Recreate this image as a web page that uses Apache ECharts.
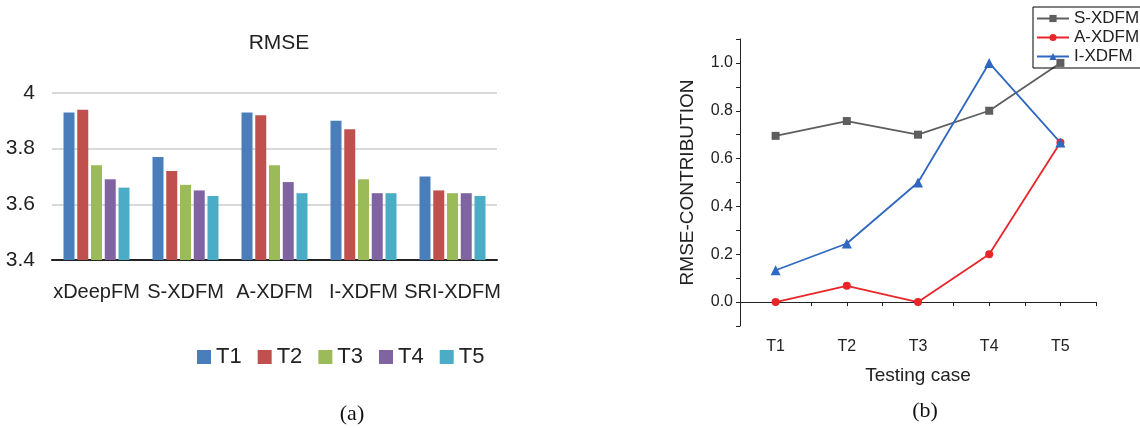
<!DOCTYPE html>
<html><head><meta charset="utf-8">
<script src="https://cdn.jsdelivr.net/npm/echarts@6/dist/echarts.min.js"></script>
<style>html,body{margin:0;padding:0;background:#fff}#c{width:1140px;height:428px}</style>
</head><body><div id="c"></div>
<script>
// ---- data: panel (a) ----
const models = ['xDeepFM', 'S-XDFM', 'A-XDFM', 'I-XDFM', 'SRI-XDFM'];
const barSeriesNames = ['T1', 'T2', 'T3', 'T4', 'T5'];
const rmseT1 = [3.93, 3.77, 3.93, 3.90, 3.70];
const rmseT2 = [3.94, 3.72, 3.92, 3.87, 3.65];
const rmseT3 = [3.74, 3.67, 3.74, 3.69, 3.64];
const rmseT4 = [3.69, 3.65, 3.68, 3.64, 3.64];
const rmseT5 = [3.66, 3.63, 3.64, 3.64, 3.63];
const rmseTicks = [3.4, 3.6, 3.8, 4.0];
// ---- data: panel (b) ----
const testCases = ['T1', 'T2', 'T3', 'T4', 'T5'];
const lineNames = ['S-XDFM', 'A-XDFM', 'I-XDFM'];
const contribS = [0.695, 0.757, 0.70, 0.80, 1.0];
const contribA = [0.0, 0.068, 0.0, 0.20, 0.667];
const contribI = [0.133, 0.245, 0.50, 1.0, 0.667];

const SANS = '"Liberation Sans", Arial, sans-serif';
const barColors = ['#4a7ebb', '#c0504d', '#9bbb59', '#8064a2', '#4bacc6'];
const lineColors = ['#5e5e5e', '#e8262a', '#2e68c0'];
const lineSymbols = ['rect', 'circle', 'triangle'];
const barData = [rmseT1, rmseT2, rmseT3, rmseT4, rmseT5];
const lineData = [contribS, contribA, contribI];

const chart = echarts.init(document.getElementById('c'), null, {renderer: 'canvas'});
const series = [];
barData.forEach((arr, i) => {
  series.push({
    type: 'bar', name: barSeriesNames[i], xAxisIndex: 0, yAxisIndex: 0,
    data: arr, barWidth: 11, barGap: '25%',
    itemStyle: {color: barColors[i]}
  });
});
lineData.forEach((arr, i) => {
  series.push({
    type: 'line', name: lineNames[i], xAxisIndex: 1, yAxisIndex: 1,
    data: arr.map((v, k) => [k + 1, v]),
    symbol: lineSymbols[i], symbolSize: i === 2 ? 10 : 8,
    lineStyle: {color: lineColors[i], width: 1.8},
    itemStyle: {color: lineColors[i]}
  });
});

chart.setOption({
  animation: false,
  title: [
    {text: 'RMSE', left: 274, top: 28, textAlign: 'center',
     textStyle: {fontFamily: SANS, fontSize: 21, fontWeight: 'normal', color: '#222'}},
    {text: '(a)', left: 347, top: 398, textAlign: 'center',
     textStyle: {fontFamily: '"Liberation Serif", "DejaVu Serif", serif', fontSize: 22, fontWeight: 'normal', color: '#111'}},
    {text: '(b)', left: 920, top: 395, textAlign: 'center',
     textStyle: {fontFamily: '"Liberation Serif", "DejaVu Serif", serif', fontSize: 22, fontWeight: 'normal', color: '#111'}}
  ],
  legend: [
    {data: barSeriesNames, left: 192, top: 341, itemWidth: 14, itemHeight: 14, itemGap: 16,
     icon: 'rect', textStyle: {fontFamily: SANS, fontSize: 22, color: '#222'}},
    {data: lineNames, orient: 'vertical', left: 1033, top: 7, itemWidth: 32, itemHeight: 9, itemGap: 2,
     borderColor: '#000', borderWidth: 1, padding: [3, 40, 3, 3],
     textStyle: {fontFamily: SANS, fontSize: 17, color: '#222'}}
  ],
  grid: [
    {left: 52, right: 643, top: 93, bottom: 168, containLabel: false},
    {left: 740, right: 44, top: 39, bottom: 102, containLabel: false}
  ],
  xAxis: [
    {type: 'category', gridIndex: 0, data: models,
     axisLine: {lineStyle: {color: '#222', width: 2}}, axisTick: {show: false},
     axisLabel: {fontFamily: SANS, fontSize: 20, color: '#222', margin: 22, interval: 0}},
    {type: 'value', gridIndex: 1, min: 0.5, max: 5.5, interval: 0.5,
     name: 'Testing case', nameLocation: 'middle', nameGap: 40,
     nameTextStyle: {fontFamily: SANS, fontSize: 19, color: '#222'},
     splitLine: {show: false},
     axisLine: {lineStyle: {color: '#222', width: 1}},
     axisTick: {inside: false, length: 4, lineStyle: {color: '#222'}},
     axisLabel: {fontFamily: SANS, fontSize: 16, color: '#222', margin: 13,
       formatter: v => (Math.abs(v - Math.round(v)) < 1e-6 ? testCases[Math.round(v) - 1] || '' : '')}}
  ],
  yAxis: [
    {type: 'value', gridIndex: 0, min: 3.4, max: 4.0, interval: 0.2,
     axisLine: {show: false}, axisTick: {show: false},
     splitLine: {lineStyle: {color: '#d9d9d9', width: 2}},
     axisLabel: {fontFamily: SANS, fontSize: 21, color: '#222', margin: 17,
       formatter: v => { const t = rmseTicks.find(x => Math.abs(x - v) < 1e-6); return t === undefined ? '' : String(t); }}},
    {type: 'value', gridIndex: 1, min: -0.1, max: 1.1, interval: 0.1,
     name: 'RMSE-CONTRIBUTION', nameLocation: 'middle', nameGap: 43, nameRotate: 90,
     nameTextStyle: {fontFamily: SANS, fontSize: 19, color: '#222'},
     splitLine: {show: false},
     axisLine: {show: true, lineStyle: {color: '#222', width: 1}},
     axisTick: {inside: false, length: 4, lineStyle: {color: '#222'}},
     axisLabel: {fontFamily: SANS, fontSize: 16, color: '#222', margin: 7,
       formatter: v => { const k = Math.round(v * 10); return (k >= 0 && k <= 10 && k % 2 === 0) ? (k / 10).toFixed(1) : ''; }}}
  ],
  series: series
});
</script></body></html>
